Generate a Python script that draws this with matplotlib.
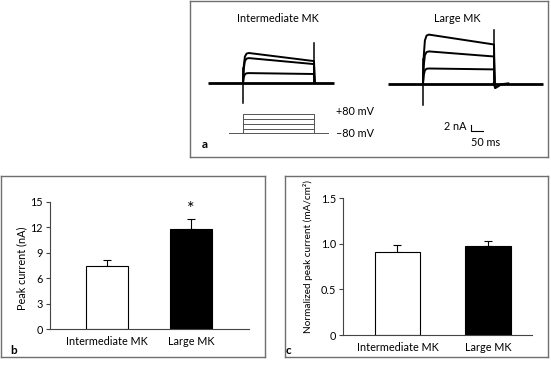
import matplotlib
matplotlib.use("Agg")
import matplotlib.pyplot as plt
import numpy as np

plt.rcParams['font.family'] = ['Lato', 'DejaVu Sans']
plt.rcParams['font.size'] = 7.8

# ---------------- data ----------------
cells = ["Intermediate MK", "Large MK"]

# panel a: representative current traces (nA) at three test potentials
int_peak = [10.0, 8.3, 3.3]
int_end = [7.3, 6.3, 3.0]
lrg_peak = [16.3, 10.7, 5.0]
lrg_end = [13.0, 9.0, 4.7]
# activation onset (ms) and fraction of peak reached
onset_t = [0, 3, 8, 15, 25]
onset_frac = [0, 0.55, 0.88, 0.98, 1.0]
step_ms = 300
int_cap = [-6.5, 13.3]     # capacitive transients at on/off (nA)
lrg_cap = [-7.0, 17.8]
lrg_tail_t = [300, 305, 330, 360]
lrg_tail_i = [0, -1.5, -0.3, 0]

# voltage protocol (mV)
v_hold = -80
v_steps = [-40, 0, 40, 80]

scale_ms = 50
scale_na = 2

# panels b and c
peak_mean = [7.4, 11.8]
peak_sem = [0.8, 1.2]
peak_ticks = [0, 3, 6, 9, 12, 15]
norm_mean = [0.91, 0.97]
norm_sem = [0.08, 0.06]
norm_ticks = [0, 0.5, 1.0, 1.5]
norm_ticklabels = ["0", "0.5", "1.0", "1.5"]
bar_colors = ["white", "black"]

# ---------------- layout ----------------
W, H = 551, 367
fig = plt.figure(figsize=(W / 100, H / 100), dpi=100)


def px_axes(l, t, w, h, **kw):
    return fig.add_axes([l / W, 1 - (t + h) / H, w / W, h / H], **kw)


def px_text(x, y, s, **kw):
    fig.text(x / W, 1 - y / H, s, **kw)


BOXC = "#6e6e6e"
for (l, t, r, b) in [(190, 1, 548, 157), (1, 176, 265, 357), (285, 176, 548, 357)]:
    bx = px_axes(l, t, r - l, b - t)
    bx.set_xticks([]); bx.set_yticks([])
    bx.patch.set_alpha(0)
    for s in bx.spines.values():
        s.set_color(BOXC); s.set_linewidth(1.0)

MS_PER_PX = 300 / 71
NA_PER_PX = 2 / 6


def trace_axes(l, t, w, h, t0, base):
    ax = px_axes(l, t, w, h)
    ax.set_xlim((l - t0) * MS_PER_PX, (l + w - t0) * MS_PER_PX)
    ax.set_ylim((base - (t + h)) * NA_PER_PX, (base - t) * NA_PER_PX)
    ax.axis("off")
    return ax


def draw_cell(ax, peaks, ends, cap, base_range, tail_t=None, tail_i=None):
    ax.plot(base_range, [0, 0], color="black", lw=2.0, solid_capstyle="butt")
    for p, e in zip(peaks, ends):
        tt = list(onset_t) + [step_ms, step_ms + 3]
        ii = [f * p for f in onset_frac] + [e, 0]
        ax.plot(tt, ii, color="black", lw=1.4)
    ax.plot([0, 0], [cap[0], max(peaks) * 0.5], color="black", lw=1.1)
    ax.plot([step_ms, step_ms], [0, cap[1]], color="black", lw=1.1)
    if tail_t is not None:
        ax.plot(tail_t, tail_i, color="black", lw=1.6)


ax_int = trace_axes(200, 25, 140, 90, 243, 83)
draw_cell(ax_int, int_peak, int_end, int_cap, [-150, 385])

ax_lrg = trace_axes(385, 20, 160, 130, 423, 83.5)
draw_cell(ax_lrg, lrg_peak, lrg_end, lrg_cap, [-148, 505], lrg_tail_t, lrg_tail_i)

# scale bar
sb_t, sb_i = 203, -15.8
ax_lrg.plot([sb_t, sb_t, sb_t + scale_ms], [sb_i + scale_na, sb_i, sb_i],
            color="black", lw=0.8)
ax_lrg.text(sb_t - 18, sb_i + scale_na * 0.7, f"{scale_na} nA", ha="right", va="center")
ax_lrg.text(sb_t, sb_i - 2.2, f"{scale_ms} ms", ha="left", va="top")

# voltage protocol
MV_PER_PX = 160 / 19.5
vl, vt, vw, vh, vt0, vbase = 200, 100, 200, 45, 243, 133.5
ax_v = px_axes(vl, vt, vw, vh)
ax_v.set_xlim((vl - vt0) * MS_PER_PX, (vl + vw - vt0) * MS_PER_PX)
ax_v.set_ylim(v_hold + (vbase - (vt + vh)) * MV_PER_PX, v_hold + (vbase - vt) * MV_PER_PX)
ax_v.axis("off")
PC = "#555555"
ax_v.plot([-60, 360], [v_hold, v_hold], color=PC, lw=0.7)
for v in v_steps:
    ax_v.plot([0, 0, step_ms, step_ms], [v_hold, v, v, v_hold], color=PC, lw=0.7)
ax_v.text(393, max(v_steps) + 20, f"+{max(v_steps)} mV", ha="left", va="center")
ax_v.text(393, v_hold, f"\u2013{abs(v_hold)} mV", ha="left", va="center")

px_text(278, 18, cells[0], ha="center", va="center")
px_text(457, 18, cells[1], ha="center", va="center")
px_text(205, 145, "a", ha="center", va="center", fontweight="bold", fontsize=8.5)
px_text(14, 350, "b", ha="center", va="center", fontweight="bold", fontsize=8.5)
px_text(288, 351, "c", ha="center", va="center", fontweight="bold", fontsize=8.5)

AXC = "#444444"


def bar_axes(ax, means, sems, ticks, xlim):
    x = np.arange(len(means))
    ax.bar(x, means, width=0.5, color=bar_colors, edgecolor="black", linewidth=0.8, zorder=2)
    ax.errorbar(x, means, yerr=[[0] * len(sems), sems], fmt="none", ecolor="black",
                elinewidth=0.8, capsize=3, capthick=0.8, zorder=1)
    ax.set_xlim(*xlim)
    ax.set_xticks(x)
    ax.set_xticklabels(cells)
    ax.set_yticks(ticks)
    ax.set_ylim(ticks[0], ticks[-1])
    for s in ["top", "right"]:
        ax.spines[s].set_visible(False)
    for s in ["left", "bottom"]:
        ax.spines[s].set_color(AXC); ax.spines[s].set_linewidth(0.8)
    ax.tick_params(axis="y", direction="out", length=3, width=0.8, color=AXC, pad=2)
    ax.tick_params(axis="x", length=0, pad=5)
    ax.patch.set_alpha(0)


# panel b
axb = px_axes(50, 202, 199, 127)
bar_axes(axb, peak_mean, peak_sem, peak_ticks, (-0.679, 1.69))
axb.set_ylabel("Peak current (nA)")
axb.yaxis.set_label_coords(-0.115, 0.48)
axb.text(1, peak_mean[1] + peak_sem[1] + 0.2, "*", ha="center", va="bottom", fontsize=13)
axb.set_ylim(0, 15)

# panel c
axc = px_axes(343, 198, 189, 137)
bar_axes(axc, norm_mean, norm_sem, norm_ticks, (-0.602, 1.486))
axc.set_yticklabels(norm_ticklabels)
axc.set_ylabel("Normalized peak current (mA/cm\u00b2)", fontsize=7.2)
axc.yaxis.set_label_coords(-0.16, 0.57)

fig.savefig("out.png", dpi=100)
